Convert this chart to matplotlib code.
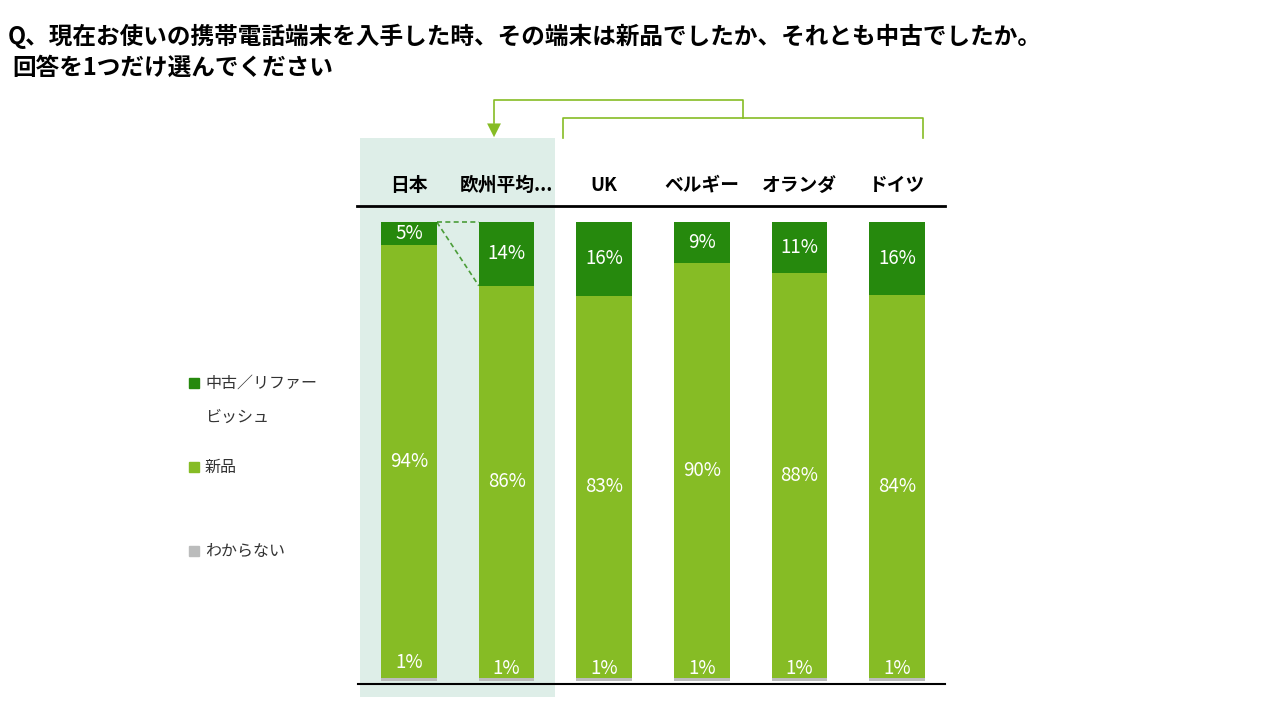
import numpy as np
import matplotlib
matplotlib.use('Agg')
import matplotlib.pyplot as plt
from matplotlib.patches import Rectangle, Polygon

plt.rcParams['font.family'] = ['Noto Sans CJK JP', 'DejaVu Sans']

# データ
countries = ['日本', '欧州平均...', 'UK', 'ベルギー', 'オランダ', 'ドイツ']
used = [5, 14, 16, 9, 11, 16]        # 中古／リファービッシュ
new = [94, 86, 83, 90, 88, 84]       # 新品
unknown = [1, 1, 1, 1, 1, 1]         # わからない
legend_labels = ['中古／リファー\nビッシュ', '新品', 'わからない']

c_used = '#26890d'
c_new = '#86bc25'
c_unk = '#bbbcbc'
c_shade = '#deeee8'

W, H = 1280, 718
fig = plt.figure(figsize=(W / 100, H / 100), dpi=100)

def px(x, y):
    # ピクセル座標 -> figure座標
    return x / W, 1 - y / H

fig.text(*px(8, 36), 'Q、現在お使いの携帯電話端末を入手した時、その端末は新品でしたか、それとも中古でしたか。',
         fontsize=17, fontweight='bold', va='center', ha='left')
fig.text(*px(12, 68), '回答を1つだけ選んでください',
         fontsize=17, fontweight='bold', va='center', ha='left')

ax = fig.add_axes([357 / W, 1 - 697 / H, (945 - 357) / W, (697 - 95) / H])
ax.set_xlim(-0.533, 5.492)
ax.set_ylim(-3.49, 127.7)
ax.axis('off')

x = np.arange(len(countries))
unk = np.array(unknown, float)
nw = np.array(new, float)
us = np.array(used, float)
tot = unk + nw + us
# 100%積み上げ
unk_p = unk / tot * 100 * 0.7
nw_p = nw / tot * 100 + unk / tot * 100 * 0.3
us_p = us / tot * 100

# 背景の網掛け（日本・欧州平均）
ax.add_patch(Rectangle((-0.50, -3.49), 2.0, 121.8, color=c_shade, zorder=0, lw=0))

bw = 0.57
ax.bar(x, unk_p, bw, color=c_unk, zorder=2, lw=0)
ax.bar(x, nw_p, bw, bottom=unk_p, color=c_new, zorder=2, lw=0)
ax.bar(x, us_p, bw, bottom=unk_p + nw_p, color=c_used, zorder=2, lw=0)

for i in range(len(countries)):
    ax.text(x[i], unk_p[i] + nw_p[i] / 2, f'{new[i]}%', color='white', ha='center', va='center', fontsize=13.5, zorder=3)
    ax.text(x[i], unk_p[i] + nw_p[i] + us_p[i] / 2, f'{used[i]}%', color='white', ha='center', va='center', fontsize=13.5, zorder=3)
    yl = 4.0 if i == 0 else 2.7
    ax.text(x[i], yl, f'{unknown[i]}%', color='white', ha='center', va='center', fontsize=13.5, zorder=3)
    ax.text(x[i], 108, countries[i], ha='center', va='center', fontsize=13.5, fontweight='bold', zorder=3)

# 横線
ax.plot([-0.533, 5.492], [103.5, 103.5], color='black', lw=2, zorder=4, clip_on=False)
ax.plot([-0.52, 5.492], [-0.6, -0.6], color='black', lw=1.5, zorder=4, clip_on=False)

# 日本と欧州平均の比較の点線
jp_top = unk_p[0] + nw_p[0] + us_p[0]
eu_mid = unk_p[1] + nw_p[1]
ax.plot([x[0] + bw / 2, x[1] - bw / 2], [jp_top, jp_top], ls=(0, (3, 2)), color=c_used, lw=1.2, alpha=0.8, zorder=3)
ax.plot([x[0] + bw / 2, x[1] - bw / 2], [jp_top, eu_mid], ls=(0, (3, 2)), color=c_used, lw=1.2, alpha=0.8, zorder=3)

# 欧州平均を示すブラケットと矢印
ax.plot([1.578, 1.578, 5.27, 5.27], [118.3, 122.7, 122.7, 118.3], color=c_new, lw=1.2, clip_on=False)
ax.plot([3.42, 3.42, 0.871, 0.871], [122.7, 126.6, 126.6, 121.5], color=c_new, lw=1.2, clip_on=False)
ax.add_patch(Polygon([[0.80, 121.5], [0.942, 121.5], [0.871, 118.5]], closed=True, color=c_new, lw=0, clip_on=False))

# 凡例
for (yy, col, lab) in [(383, c_used, legend_labels[0]), (467, c_new, legend_labels[1]), (551, c_unk, legend_labels[2])]:
    fig.patches.append(Rectangle(px(189, yy + 5), 10 / W, 10 / H, color=col, transform=fig.transFigure))
    if '\n' in lab:
        a, b = lab.split('\n')
        fig.text(*px(205, yy), a, fontsize=11.5, va='center', ha='left', color='#333333')
        fig.text(*px(205, yy + 34), b, fontsize=11.5, va='center', ha='left', color='#333333')
    else:
        fig.text(*px(205, yy), lab, fontsize=11.5, va='center', ha='left', color='#333333')

fig.savefig('out.png', dpi=100)
